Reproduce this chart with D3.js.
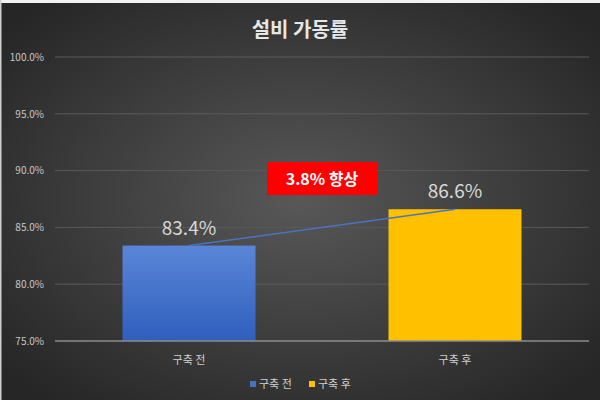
<!DOCTYPE html>
<html>
<head>
<meta charset="utf-8">
<script src="https://cdn.jsdelivr.net/npm/d3@7"></script>
<style>
  html, body { margin: 0; padding: 0; background: #fff; }
  svg { display: block; }
  text { font-family: "Noto Sans CJK KR", "Noto Sans", sans-serif; }
</style>
</head>
<body>
<script>
// chart data
var categories = ["구축 전", "구축 후"];
var values = [83.4, 86.6];
var barColors = ["#4472c4", "#ffc000"];
var yTicks = [75, 80, 85, 90, 95, 100];
var title = "설비 가동률";
var note = "3.8% 향상";
var noteLevel = 89.3;

var width = 600, height = 400;

var svg = d3.select("body").append("svg")
  .attr("width", width)
  .attr("height", height);

var defs = svg.append("defs");
var bg = defs.append("radialGradient").attr("id", "bg")
  .attr("cx", "50%").attr("cy", "50%").attr("r", "65%");
bg.append("stop").attr("offset", "0%").attr("stop-color", "#585858");
bg.append("stop").attr("offset", "100%").attr("stop-color", "#262626");

var blue = defs.append("linearGradient").attr("id", "blueGrad")
  .attr("x1", 0).attr("y1", 0).attr("x2", 0).attr("y2", 1);
blue.append("stop").attr("offset", "0%").attr("stop-color", "#5a86d8");
blue.append("stop").attr("offset", "100%").attr("stop-color", "#2f5fbd");

// background
svg.append("rect").attr("width", width).attr("height", height).attr("fill", "url(#bg)");
svg.append("rect").attr("width", width).attr("height", 3).attr("fill", "#f2f2f2");
svg.append("rect").attr("width", 1.5).attr("height", height).attr("fill", "#cfcfcf");

var x = d3.scaleBand().domain(categories).range([56, 588])
  .paddingInner(0.5).paddingOuter(0.25);
var y = d3.scaleLinear().domain([75, 100]).range([341, 57]);

// title
svg.append("text")
  .attr("x", 300).attr("y", 37)
  .attr("text-anchor", "middle")
  .attr("font-size", 20).attr("font-weight", "bold")
  .attr("fill", "#e6e6e6")
  .text(title);

// gridlines
svg.append("g").selectAll("line")
  .data(yTicks.slice(1))
  .join("line")
  .attr("x1", 55).attr("x2", 589)
  .attr("y1", d => y(d)).attr("y2", d => y(d))
  .attr("stroke", "#5a5a5a").attr("stroke-width", 1);

// y tick labels
var yAxis = d3.axisLeft(y).tickValues(yTicks)
  .tickFormat(d => d.toFixed(1) + "%").tickSize(0).tickPadding(0);
var gy = svg.append("g").attr("transform", "translate(44,0)").call(yAxis);
gy.select(".domain").remove();
gy.selectAll("text")
  .attr("fill", "#c8c8c8").attr("font-size", 10)
  .attr("font-family", "'Open Sans', 'Noto Sans', sans-serif");

// bars
svg.append("g").selectAll("rect")
  .data(values)
  .join("rect")
  .attr("x", (d, i) => x(categories[i]))
  .attr("y", d => y(d))
  .attr("width", x.bandwidth())
  .attr("height", d => y(75) - y(d))
  .attr("fill", (d, i) => i === 0 ? "url(#blueGrad)" : barColors[i]);

// x axis line
svg.append("line")
  .attr("x1", 55).attr("x2", 589)
  .attr("y1", y(75)).attr("y2", y(75))
  .attr("stroke", "#8c8c8c").attr("stroke-width", 1.5);

// x labels
var xAxis = d3.axisBottom(x).tickSize(0).tickPadding(0);
var gx = svg.append("g").attr("transform", "translate(0," + (y(75) + 15) + ")").call(xAxis);
gx.select(".domain").remove();
gx.selectAll("text")
  .attr("fill", "#d0d0d0").attr("font-size", 11)
  .attr("font-family", "'Noto Sans CJK KR', sans-serif");

// connecting line between bar tops
var line = d3.line()
  .x((d, i) => x(categories[i]) + x.bandwidth() / 2)
  .y(d => y(d));
svg.append("path")
  .datum(values)
  .attr("d", line)
  .attr("fill", "none")
  .attr("stroke", "#4a74c0")
  .attr("stroke-width", 1.5);

// value labels
svg.append("g").selectAll("text")
  .data(values)
  .join("text")
  .attr("x", (d, i) => x(categories[i]) + x.bandwidth() / 2)
  .attr("y", d => y(d) - 11)
  .attr("text-anchor", "middle")
  .attr("font-size", 19)
  .attr("fill", "#d9d9d9")
  .attr("font-family", "'Open Sans', 'Noto Sans', sans-serif")
  .text(d => d.toFixed(1) + "%");

// annotation box
var cx = (x(categories[0]) + x(categories[1]) + x.bandwidth()) / 2;
var cy = y(noteLevel);
svg.append("rect")
  .attr("x", cx - 55).attr("y", cy - 16.5)
  .attr("width", 110).attr("height", 33)
  .attr("fill", "#ff0000");
svg.append("text")
  .attr("x", cx).attr("y", cy + 6)
  .attr("text-anchor", "middle")
  .attr("font-size", 16).attr("font-weight", "bold")
  .attr("fill", "#ffffff")
  .text(note);

// legend
var legendItems = [
  { label: categories[0], color: barColors[0], x: 250 },
  { label: categories[1], color: barColors[1], x: 309 }
];
var lg = svg.append("g").selectAll("g")
  .data(legendItems)
  .join("g")
  .attr("transform", d => "translate(" + d.x + ",384)");
lg.append("rect")
  .attr("x", 0).attr("y", -3)
  .attr("width", 6).attr("height", 6)
  .attr("fill", d => d.color);
lg.append("text")
  .attr("x", 9).attr("y", 4)
  .attr("font-size", 11)
  .attr("fill", "#d0d0d0")
  .text(d => d.label);
</script>
</body>
</html>
